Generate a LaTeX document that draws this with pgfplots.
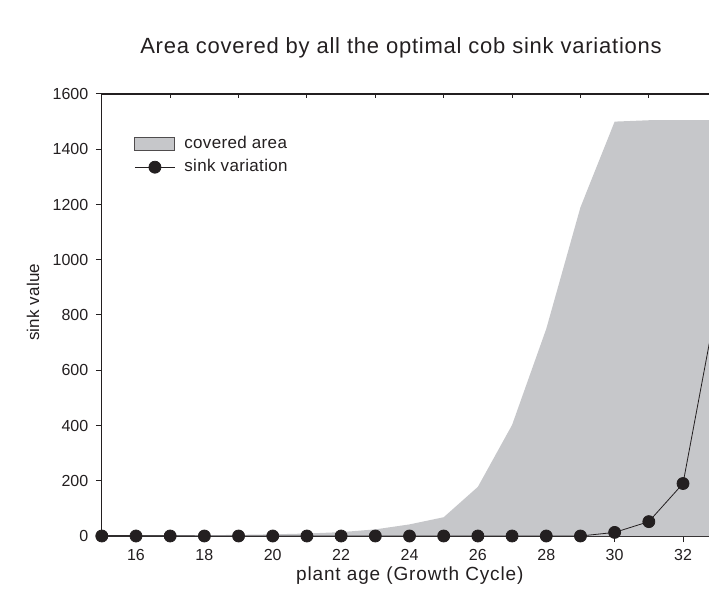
\documentclass[border=0pt]{standalone}
\usepackage{pgfplots}
\pgfplotsset{compat=1.18}
\usepackage{fontspec}
\setmainfont{Liberation Sans}
\definecolor{areagray}{RGB}{198,199,202}
\definecolor{ink}{RGB}{35,31,32}

\pgfplotsset{
  boxlegend/.style={legend image code/.code={\draw[##1, draw=ink!80, line width=0.9pt] (0pt,-6.5pt) rectangle (40pt,6.5pt);}},
  linelegend/.style={legend image code/.code={\draw[mark repeat=2, mark phase=2, ##1] plot coordinates {(0pt,0pt) (20pt,0pt) (40pt,0pt)};}},
}

% upper edge of the covered area
\pgfplotstableread{
x y
15 0
16 1
17 2
18 3
19 4
20 6
21 9
22 14
23 24
24 42
25 68
26 178
27 402
28 750
29 1190
30 1500
31 1505
32 1505
33 1505
}\areadata

% one optimal sink variation
\pgfplotstableread{
x y
15 0
16 0
17 0
18 0
19 0
20 0
21 0
22 0
23 0
24 0
25 0
26 0
27 0
28 0
29 0
30 13
31 52
32 190
33 850
}\sinkdata

\begin{document}
\begin{tikzpicture}
\begin{axis}[
  name=main,
  scale only axis, width=607.2pt, height=442pt,
  xmin=15, xmax=32.76, ymin=0, ymax=1600,
  axis x line*=bottom, axis y line*=left,
  axis line style={ink, line width=1.1pt},
  tick align=outside, major tick length=6pt,
  tick style={ink, line width=1pt},
  xtick={16,18,...,32}, ytick={0,200,...,1600},
  ticklabel style={font=\fontsize{16}{18}\selectfont, text=ink},
  xticklabel style={yshift=-4pt},
  yticklabel style={xshift=-4pt},
  /pgf/number format/assume math mode=true,
  /pgf/number format/1000 sep={},
  title={Area covered by all the optimal cob sink variations},
  title style={at={(axis description cs:0.4928,1.0905)}, anchor=center,
    font=\fontsize{22}{26}\selectfont\addfontfeature{LetterSpace=3.5}, text=ink},
  xlabel={plant age (Growth Cycle)},
  xlabel style={at={(axis description cs:0.5072,-0.0905)}, anchor=center,
    font=\fontsize{19}{22}\selectfont\addfontfeature{LetterSpace=4.5}, text=ink},
  ylabel={sink value},
  ylabel style={at={(axis description cs:-0.1133,0.529)}, anchor=center,
    font=\fontsize{17}{20}\selectfont\addfontfeature{LetterSpace=1}, text=ink},
  legend style={at={(axis description cs:0.0535,0.905)}, anchor=north west,
    draw=none, fill=none, inner sep=0pt, row sep=7pt, column sep=9pt,
    font=\fontsize{17}{20}\selectfont\addfontfeature{LetterSpace=2}, text=ink,
    nodes={inner sep=0pt, text height=12pt, text depth=4pt}},
  legend cell align=left,
]
\addplot[fill=areagray, draw=none, boxlegend]
  table[x=x, y=y] {\areadata} \closedcycle;
\addlegendentry{covered area}
\addplot[ink, line width=0.8pt, mark=*, mark size=6pt, mark options={fill=ink, draw=ink}, linelegend]
  table[x=x, y=y] {\sinkdata};
\addlegendentry{sink variation}
\end{axis}
\begin{axis}[
  scale only axis, width=607.2pt, height=442pt,
  xmin=15, xmax=32.76, ymin=0, ymax=1600,
  axis x line*=top, axis y line=none,
  axis line style={ink, line width=1.1pt},
  tick align=inside, major tick length=4pt,
  tick style={ink, line width=1pt},
  xtick={17,19,...,31}, xticklabels={}, ytick=\empty,
]
\end{axis}
\pgfresetboundingbox
\path[use as bounding box] ([xshift=-101.8pt,yshift=-77pt]main.south west) rectangle ([yshift=94pt]main.north east);
\end{tikzpicture}
\end{document}
